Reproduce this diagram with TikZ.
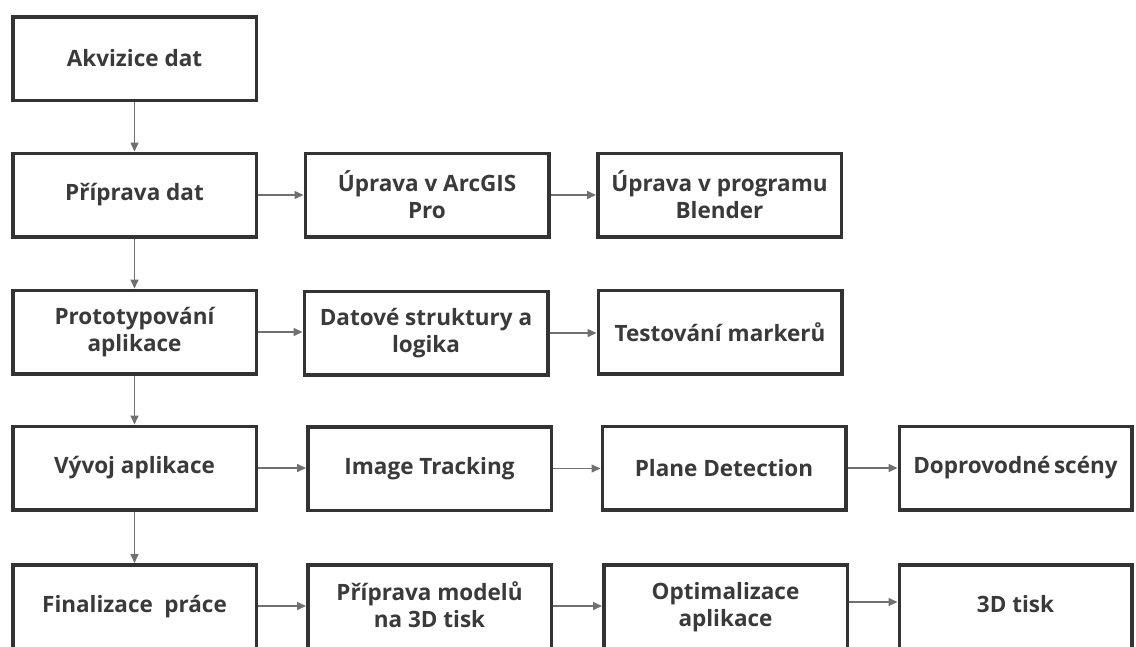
\documentclass[tikz,border=0pt]{standalone}
\usepackage{fontspec}
\setmainfont{Open Sans}
\usetikzlibrary{arrows.meta}
\definecolor{boxline}{HTML}{333333}
\definecolor{txt}{HTML}{3A3A3A}
\definecolor{arr}{HTML}{707070}
\tikzset{
  box/.style={draw=boxline, line width=3.5pt, fill=white, minimum width=243.5pt,
    minimum height=83.5pt, inner sep=2pt, align=center, text=txt,
    font=\fontsize{22.5}{27}\selectfont\bfseries},
  lastbox/.style={box, minimum width=232.5pt},
  lowbox/.style={minimum height=100pt, text depth=21pt},
  conn/.style={draw=arr, line width=1.5pt, -{Triangle[length=9pt,width=8pt]}}
}
\begin{document}
\begin{tikzpicture}[x=1pt,y=-1pt]
\useasboundingbox (0,0) rectangle (1136,646);
\clip (0,0) rectangle (1136,646);
% column 1
\node[box] (a1) at (134.5,58.5) {Akvizice dat};
\node[box] (a2) at (134.5,195) {Příprava dat};
\node[box] (a3) at (134.5,332) {Prototypování\\aplikace};
\node[box] (a4) at (134.5,468) {Vývoj aplikace};
\node[box, lowbox] (a5) at (134.5,614.75) {Finalizace\hspace{0.25em} práce};
% row 2
\node[box] (b2) at (427,195) {Úprava v ArcGIS\\Pro};
\node[box] (c2) at (719.5,195) {Úprava v programu\\Blender};
% row 3
\node[box] (b3) at (426,333) {Datové struktury a\\logika};
\node[box] (c3) at (720,332) {Testování markerů};
% row 4
\node[box] (b4) at (429.5,468.5) {Image Tracking};
\node[box] (c4) at (724,468) {Plane Detection};
\node[lastbox] (d4) at (1015.5,468) {Doprovodné\hspace{-0.1em} scény};
% row 5
\node[box, lowbox] (b5) at (429.5,614.75) {Příprava modelů\\na 3D tisk};
\node[box, lowbox] (c5) at (725.5,614.75) {Optimalizace\\aplikace};
\node[lastbox, lowbox] (d5) at (1015.5,614.75) {3D tisk};
% vertical connectors
\draw[conn] (a1) -- (a2);
\draw[conn] (a2) -- (a3);
\draw[conn] (a3) -- (a4);
\draw[conn] (a4) -- (a5);
% horizontal connectors
\draw[conn] (a2.east) -- (b2.west |- a2.east);
\draw[conn] (b2.east) -- (c2.west |- b2.east);
\draw[conn] (a3.east) -- (b3.west |- a3.east);
\draw[conn] (b3.east) -- (c3.west |- b3.east);
\draw[conn] (a4.east) -- (b4.west |- a4.east);
\draw[conn] (b4.east) -- (c4.west |- b4.east);
\draw[conn] (c4.east) -- (d4.west |- c4.east);
\coordinate (r5) at (0,606);
\draw[conn] (a5.east |- r5) -- (b5.west |- r5);
\draw[conn] (b5.east |- r5) -- (c5.west |- r5);
\coordinate (r5b) at (0,602);
\draw[conn] (c5.east |- r5b) -- (d5.west |- r5b);
\end{tikzpicture}
\end{document}
